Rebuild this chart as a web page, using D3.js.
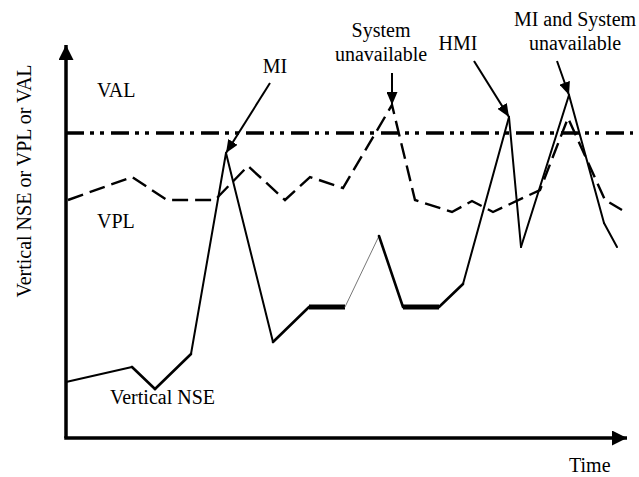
<!DOCTYPE html>
<html>
<head>
<meta charset="utf-8">
<script src="https://cdn.jsdelivr.net/npm/d3@7"></script>
<style>
  html, body { margin: 0; padding: 0; background: #fff; }
  svg { display: block; }
  text { font-family: "Liberation Serif", "Times New Roman", serif; font-size: 20px; fill: #000; }
</style>
</head>
<body>
<svg id="chart" width="639" height="477"></svg>
<script>
// Vertical navigation system error (solid) over time
const nseTime  = [0, 6.6, 8.9, 12.5, 16.0, 20.7, 24.3, 27.9, 31.3, 33.7, 37.3, 39.7, 44.3, 45.5, 50.3, 53.8, 55.1];
const nseValue = [5.6, 7.1, 4.9, 8.4, 28.5, 9.6, 13.1, 13.1, 20.2, 13.1, 13.1, 15.4, 32.1, 19.1, 34.3, 21.5, 19.1];

// Vertical protection level (dashed) over time
const vplTime  = [0.2, 6.6, 10.1, 14.9, 18.2, 21.9, 24.4, 27.7, 32.6, 34.9, 38.6, 40.6, 42.7, 47.4, 50.2, 53.9, 55.6];
const vplValue = [23.8, 26.1, 23.8, 23.8, 27.2, 23.8, 26.1, 25.0, 33.3, 23.8, 22.6, 23.7, 22.6, 24.8, 32.0, 23.8, 22.8];

// Vertical alert limit (constant)
const valLevel = 30.5;

// Axis extents (arrow tips)
const timeMax = 56.1;
const valueMax = 39.3;

// Event call-outs: text lines, which series they point at, and the point index
const eventLines  = [["MI"], ["System", "unavailable"], ["HMI"], ["MI and System", "unavailable"]];
const eventSeries = ["nse", "vpl", "nse", "nse"];
const eventIndex  = [4, 8, 12, 14];

// Curve labels and axis titles
const curveLabels = ["VAL", "VPL", "Vertical NSE"];
const xTitle = "Time";
const yTitle = "Vertical NSE or VPL or VAL";

const svg = d3.select("#chart");
const x = d3.scaleLinear().domain([0, timeMax]).range([66, 627]);
const y = d3.scaleLinear().domain([0, valueMax]).range([438, 45]);

const defs = svg.append("defs");
function arrowMarker(id, len, wid) {
  defs.append("marker")
    .attr("id", id)
    .attr("markerUnits", "userSpaceOnUse")
    .attr("viewBox", `0 0 ${len} ${wid}`)
    .attr("refX", len).attr("refY", wid / 2)
    .attr("markerWidth", len).attr("markerHeight", wid)
    .attr("orient", "auto")
    .append("path")
    .attr("d", `M0,0L${len},${wid / 2}L0,${wid}Z`)
    .attr("fill", "#000");
}
arrowMarker("axisHead", 15, 15);
arrowMarker("calloutHead", 13, 11);

// Axes with arrow heads
svg.append("line")
  .attr("x1", x(0)).attr("y1", y(0)).attr("x2", x(0)).attr("y2", y(valueMax))
  .attr("stroke", "#000").attr("stroke-width", 3.5)
  .attr("marker-end", "url(#axisHead)");
svg.append("line")
  .attr("x1", x(0) - 1.75).attr("y1", y(0)).attr("x2", x(timeMax)).attr("y2", y(0))
  .attr("stroke", "#000").attr("stroke-width", 3.5)
  .attr("marker-end", "url(#axisHead)");

// VAL: dash-dot-dot horizontal line
svg.append("line")
  .attr("x1", x(0)).attr("x2", 633)
  .attr("y1", y(valLevel)).attr("y2", y(valLevel))
  .attr("stroke", "#000").attr("stroke-width", 3.5)
  .attr("stroke-dasharray", "18,6,4,6,4,7");

// VPL: dashed polyline
const vplPts = vplTime.map((t, i) => [t, vplValue[i]]);
const line = d3.line().x(d => x(d[0])).y(d => y(d[1]));
svg.append("path")
  .attr("d", line(vplPts))
  .attr("fill", "none").attr("stroke", "#000")
  .attr("stroke-width", 2.4).attr("stroke-dasharray", "16,7")
  .attr("stroke-linejoin", "miter");

// Vertical NSE: solid polyline, drawn per segment so some stretches stand out
const nsePts = nseTime.map((t, i) => [t, nseValue[i]]);
const heavySegments = new Set([6, 9]);
const hairSegments = new Set([7]);
const midSegments = new Set([1, 2, 5, 8, 10]);
svg.append("g").selectAll("path")
  .data(d3.pairs(nsePts))
  .join("path")
  .attr("d", d => line(d))
  .attr("fill", "none")
  .attr("stroke", (d, i) => hairSegments.has(i) ? "#777" : "#000")
  .attr("stroke-width", (d, i) => heavySegments.has(i) ? 5 : hairSegments.has(i) ? 1 : midSegments.has(i) ? 2.6 : 2)
  .attr("stroke-linecap", (d, i) => heavySegments.has(i) ? "butt" : "round");

// Curve labels
const curveLabelPos = [[97, 97], [97, 228], [110, 404]];
svg.append("g").selectAll("text")
  .data(curveLabels)
  .join("text")
  .attr("x", (d, i) => curveLabelPos[i][0])
  .attr("y", (d, i) => curveLabelPos[i][1])
  .text(d => d);

// Axis titles
svg.append("text").attr("x", 569).attr("y", 472).text(xTitle);
svg.append("text")
  .attr("transform", "translate(31,181) rotate(-90)")
  .attr("text-anchor", "middle")
  .text(yTitle);

// Event call-outs with arrows onto the curves
const calloutText  = [[275, 73], [381, 37], [458, 50], [575, 26]];   // centre x, first baseline
const calloutStart = [[270, 83], [392, 73], [474, 61], [557, 61]];   // arrow tail
const lineGap = 23.5;
eventLines.forEach((lines, k) => {
  const t = eventSeries[k] === "nse" ? nseTime : vplTime;
  const v = eventSeries[k] === "nse" ? nseValue : vplValue;
  const tip = [x(t[eventIndex[k]]), y(v[eventIndex[k]])];
  const g = svg.append("g");
  g.selectAll("text")
    .data(lines)
    .join("text")
    .attr("x", calloutText[k][0])
    .attr("y", (d, j) => calloutText[k][1] + j * lineGap)
    .attr("text-anchor", "middle")
    .text(d => d);
  g.append("line")
    .attr("x1", calloutStart[k][0]).attr("y1", calloutStart[k][1])
    .attr("x2", tip[0]).attr("y2", tip[1])
    .attr("stroke", "#000").attr("stroke-width", 2)
    .attr("marker-end", "url(#calloutHead)");
});
</script>
</body>
</html>
